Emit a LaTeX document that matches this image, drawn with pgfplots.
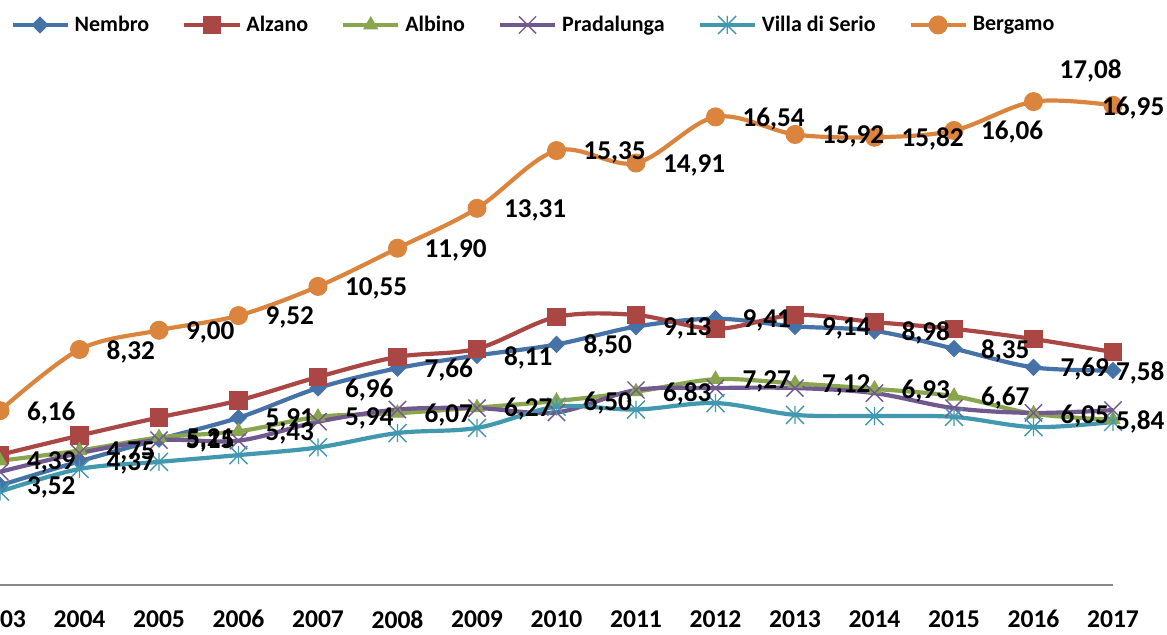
\documentclass[border=0pt]{standalone}
\usepackage{fontspec}
\setmainfont{Carlito}
\usepackage{pgfplots}
\usepackage{pgfplotstable}
\pgfplotsset{compat=1.18}

\definecolor{cNem}{HTML}{4572A7}
\definecolor{cAlz}{HTML}{AA4643}
\definecolor{cAlb}{HTML}{89A54E}
\definecolor{cPra}{HTML}{71588F}
\definecolor{cVil}{HTML}{4198AF}
\definecolor{cBer}{HTML}{DB843D}
\definecolor{cAx}{HTML}{868686}

\pgfdeclareplotmark{xcross}{%
 \pgfpathmoveto{\pgfqpoint{-\pgfplotmarksize}{-\pgfplotmarksize}}%
 \pgfpathlineto{\pgfqpoint{\pgfplotmarksize}{\pgfplotmarksize}}%
 \pgfpathmoveto{\pgfqpoint{-\pgfplotmarksize}{\pgfplotmarksize}}%
 \pgfpathlineto{\pgfqpoint{\pgfplotmarksize}{-\pgfplotmarksize}}%
 \pgfusepathqstroke}
\pgfdeclareplotmark{xstar}{%
 \pgfpathmoveto{\pgfqpoint{-\pgfplotmarksize}{-\pgfplotmarksize}}%
 \pgfpathlineto{\pgfqpoint{\pgfplotmarksize}{\pgfplotmarksize}}%
 \pgfpathmoveto{\pgfqpoint{-\pgfplotmarksize}{\pgfplotmarksize}}%
 \pgfpathlineto{\pgfqpoint{\pgfplotmarksize}{-\pgfplotmarksize}}%
 \pgfpathmoveto{\pgfqpoint{0pt}{-\pgfplotmarksize}}%
 \pgfpathlineto{\pgfqpoint{0pt}{\pgfplotmarksize}}%
 \pgfusepathqstroke}

\pgfplotstableread{
x y dx dy
2003 3.52 12.5 -1
2004 4.37 12.5 -1
2005 5.15 12.5 -1
2006 5.91 12.5 -1
2007 6.96 12.5 -1
2008 7.66 12.5 -1
2009 8.11 12.5 -1
2010 8.50 12.5 -1
2011 9.13 12.5 -1
2012 9.41 12.5 -1
2013 9.14 12.5 -1
2014 8.98 12.5 -1
2015 8.35 12.5 -1
2016 7.69 12.5 -1
2017 7.58 0.5 -1
}\nembro

\pgfplotstableread{
x y
2003 4.60
2004 5.28
2005 5.92
2006 6.52
2007 7.35
2008 8.06
2009 8.35
2010 9.47
2011 9.54
2012 9.05
2013 9.54
2014 9.29
2015 9.05
2016 8.69
2017 8.23
}\alzano

\pgfplotstableread{
x y dx dy
2003 4.39 12.5 -1
2004 4.75 12.5 -1
2005 5.21 12.5 -1
2006 5.43 12.5 -1
2007 5.94 12.5 -1
2008 6.07 12.5 -1
2009 6.27 12.5 -1
2010 6.50 12.5 -1
2011 6.83 12.5 -1
2012 7.27 12.5 -1
2013 7.12 12.5 -1
2014 6.93 12.5 -1
2015 6.67 12.5 -1
2016 6.05 12.5 -1
2017 5.84 0.5 -1
}\albino

\pgfplotstableread{
x y
2003 4.00
2004 4.66
2005 5.12
2006 5.10
2007 5.77
2008 6.20
2009 6.25
2010 6.10
2011 6.89
2012 6.96
2013 6.96
2014 6.78
2015 6.25
2016 6.08
2017 6.18
}\pradalunga

\pgfplotstableread{
x y
2003 3.30
2004 4.10
2005 4.35
2006 4.59
2007 4.86
2008 5.37
2009 5.55
2010 6.30
2011 6.20
2012 6.43
2013 6.01
2014 5.97
2015 5.94
2016 5.58
2017 5.76
}\villa

\pgfplotstableread{
x y dx dy
2003 6.16 12.5 -1
2004 8.32 12.5 -1
2005 9.00 12.5 -1
2006 9.52 12.5 -1
2007 10.55 12.5 -1
2008 11.90 12.5 -1
2009 13.31 12.5 -1
2010 15.35 12.5 -1
2011 14.91 12.5 -1
2012 16.54 12.5 -1
2013 15.92 12.5 -1
2014 15.82 12.5 -1
2015 16.06 12.5 -1
2016 17.08 12 15.5
2017 16.95 -6.5 -1.5
}\bergamo

\begin{document}
\begin{tikzpicture}
\begin{axis}[
 scale only axis, width=556.5pt, height=254.7pt,
 xmin=2003, xmax=2017, ymin=0, ymax=18,
 clip=false,
 axis x line=bottom, axis y line=none,
 x axis line style={-, draw=cAx, line width=1pt},
 xtick={2003,2004,2005,2006,2007,2008,2009,2010,2011,2012,2013,2014,2015,2016,2017},
 xticklabels={2003,2004,2005,2006,2007,2008,2009,2010,2011,2012,2013,2014,2015,2016,2017},
 major tick length=0pt,
 xticklabel style={font=\bfseries\fontsize{12.8}{15}\selectfont, inner sep=0pt, anchor=north, yshift=-12.5pt},
 ytick=\empty,
 every axis plot/.append style={line width=2.1pt, smooth, tension=0.55},
 legend columns=6,
 legend style={draw=none, fill=none, at={(0,1)}, anchor=west, xshift=5pt, yshift=25.3pt,
   inner sep=0pt, font=\bfseries\fontsize{11}{13}\selectfont,
   /tikz/every odd column/.append style={column sep=2.5pt},
   /tikz/every even column/.append style={column sep=16.5pt},
   nodes={inner sep=0pt}},
 legend image code/.code={\draw[mark repeat=2,mark phase=2,#1] plot coordinates {(0pt,0pt)(13.75pt,0pt)(27.5pt,0pt)};},
 label style/.style={draw=none, mark=none, forget plot,
   nodes near coords={\pgfmathprintnumber[fixed,fixed zerofill,precision=2,use comma,assume math mode=true]{\pgfplotspointmeta}},
   visualization depends on={\thisrow{dx}\as\dx},
   visualization depends on={\thisrow{dy}\as\dy},
   every node near coord/.append style={anchor=west, inner sep=0pt, xshift=\dx pt, yshift=\dy pt,
     font=\bfseries\fontsize{13.6}{15}\selectfont, text=black}},
]
\coordinate (O) at (axis cs:2003,0);
\addplot[color=cNem, mark=diamond*, mark size=4pt, mark options={solid, fill=cNem, line width=0.5pt, xscale=1.33}] table[x=x,y=y]{\nembro};
\addlegendentry{Nembro}
\addplot[color=cAlz, mark=square*, mark size=4.3pt, mark options={solid, fill=cAlz, line width=0.5pt}] table[x=x,y=y]{\alzano};
\addlegendentry{Alzano}
\addplot[color=cAlb, mark=triangle*, mark size=4pt, mark options={solid, fill=cAlb, line width=0.5pt}] table[x=x,y=y]{\albino};
\addlegendentry{Albino}
\addplot[color=cPra, mark=xcross, mark size=4.3pt, mark options={solid, line width=0.7pt}] table[x=x,y=y]{\pradalunga};
\addlegendentry{Pradalunga}
\addplot[color=cVil, mark=xstar, mark size=4.5pt, mark options={solid, line width=0.7pt}] table[x=x,y=y]{\villa};
\addlegendentry{Villa di Serio}
\addplot[color=cBer, mark=*, mark size=4.5pt, mark options={solid, fill=cBer, line width=0.5pt}] table[x=x,y=y]{\bergamo};
\addlegendentry{Bergamo}
\addplot[label style] table[x=x,y=y]{\nembro};
\addplot[label style] table[x=x,y=y]{\albino};
\addplot[label style] table[x=x,y=y]{\bergamo};
\end{axis}
\pgfresetboundingbox
\path[use as bounding box] (O) ++(0pt,-25pt) rectangle ++(583.5pt,317.5pt);
\end{tikzpicture}
\end{document}
